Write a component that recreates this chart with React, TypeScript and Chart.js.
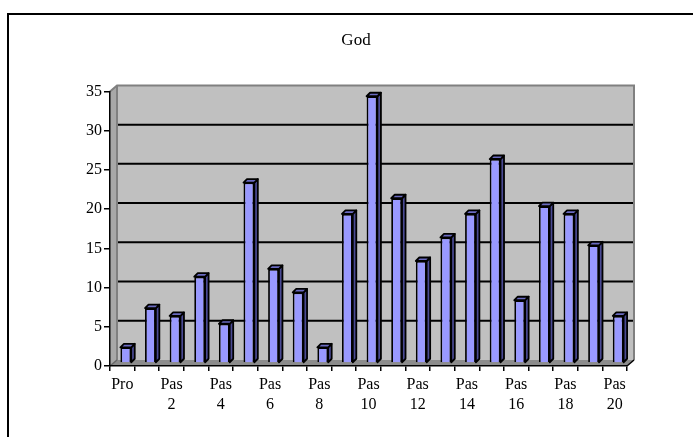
import React, { useEffect, useRef } from "react";
import { Chart, registerables } from "chart.js";

Chart.register(...registerables);

const categories: string[] = [
  "Pro", "Pas 1", "Pas 2", "Pas 3", "Pas 4", "Pas 5", "Pas 6", "Pas 7", "Pas 8", "Pas 9", "Pas 10",
  "Pas 11", "Pas 12", "Pas 13", "Pas 14", "Pas 15", "Pas 16", "Pas 17", "Pas 18", "Pas 19", "Pas 20",
];
const values: number[] = [2, 7, 6, 11, 5, 23, 12, 9, 2, 19, 34, 21, 13, 16, 19, 26, 8, 20, 19, 15, 6];
const yTicks: number[] = [0, 5, 10, 15, 20, 25, 30, 35];
const title = "God";

const FONT = "'Liberation Serif', 'Times New Roman', serif";
const DX = 7;
const DY = -6;
const BDX = 3.5;
const BDY = -3.5;

const threeD = {
  id: "threeD",
  beforeDraw(chart: any) {
    const { ctx, chartArea } = chart;
    const { left, right, top, bottom } = chartArea;
    const y = chart.scales.y;
    ctx.save();
    ctx.fillStyle = "#ffffff";
    ctx.fillRect(0, 0, chart.width, chart.height);
    // frame
    ctx.strokeStyle = "#000";
    ctx.lineWidth = 2;
    ctx.strokeRect(8, 14, 900, 900);
    // left side wall
    ctx.fillStyle = "#a8a8a8";
    ctx.beginPath();
    ctx.moveTo(left, top);
    ctx.lineTo(left + DX, top + DY);
    ctx.lineTo(left + DX, bottom + DY);
    ctx.lineTo(left, bottom);
    ctx.closePath();
    ctx.fill();
    // back wall
    ctx.fillStyle = "#c0c0c0";
    ctx.fillRect(left + DX, top + DY, right - left, bottom - top);
    // floor
    ctx.fillStyle = "#8c8c8c";
    ctx.beginPath();
    ctx.moveTo(left, bottom);
    ctx.lineTo(left + DX, bottom + DY);
    ctx.lineTo(right + DX, bottom + DY);
    ctx.lineTo(right, bottom);
    ctx.closePath();
    ctx.fill();
    // gridlines on back wall
    ctx.strokeStyle = "#000";
    ctx.lineWidth = 2;
    yTicks.forEach((v) => {
      if (v === 0 || v === yTicks[yTicks.length - 1]) return;
      const py = y.getPixelForValue(v) + DY;
      ctx.beginPath();
      ctx.moveTo(left + DX, py);
      ctx.lineTo(right + DX, py);
      ctx.stroke();
    });
    // wall borders
    ctx.strokeStyle = "#808080";
    ctx.lineWidth = 2;
    ctx.beginPath();
    ctx.moveTo(left, top);
    ctx.lineTo(left + DX, top + DY);
    ctx.lineTo(right + DX, top + DY);
    ctx.lineTo(right + DX, bottom + DY);
    ctx.stroke();
    ctx.beginPath();
    ctx.moveTo(left + DX, top + DY);
    ctx.lineTo(left + DX, bottom + DY);
    ctx.stroke();
    // floor edges
    ctx.strokeStyle = "#000";
    ctx.lineWidth = 1.5;
    ctx.beginPath();
    ctx.moveTo(right, bottom);
    ctx.lineTo(right + DX, bottom + DY);
    ctx.stroke();
    ctx.beginPath();
    ctx.moveTo(left, bottom);
    ctx.lineTo(left + DX, bottom + DY);
    ctx.strokeStyle = "#666";
    ctx.stroke();
    ctx.restore();
  },
  beforeDatasetsDraw(chart: any) {
    chart.ctx.save();
    chart.ctx.translate(DX / 2, DY / 2);
  },
  afterDatasetsDraw(chart: any) {
    const ctx = chart.ctx;
    const meta = chart.getDatasetMeta(0);
    ctx.lineWidth = 1.8;
    ctx.strokeStyle = "#000";
    ctx.lineJoin = "round";
    meta.data.forEach((bar: any) => {
      const { x, y, base, width } = bar.getProps(["x", "y", "base", "width"], true);
      const l = x - width / 2;
      const r = x + width / 2;
      // side
      ctx.fillStyle = "#4a4a94";
      ctx.beginPath();
      ctx.moveTo(r, y);
      ctx.lineTo(r + BDX, y + BDY);
      ctx.lineTo(r + BDX, base + BDY);
      ctx.lineTo(r, base);
      ctx.closePath();
      ctx.fill();
      ctx.stroke();
      // top
      ctx.fillStyle = "#6a6ac0";
      ctx.beginPath();
      ctx.moveTo(l, y);
      ctx.lineTo(l + BDX, y + BDY);
      ctx.lineTo(r + BDX, y + BDY);
      ctx.lineTo(r, y);
      ctx.closePath();
      ctx.fill();
      ctx.stroke();
    });
    ctx.restore();
  },
};

export default function App() {
  const ref = useRef<HTMLCanvasElement | null>(null);
  useEffect(() => {
    if (!ref.current) return;
    const chart = new Chart(ref.current, {
      type: "bar",
      data: {
        labels: categories,
        datasets: [
          {
            data: values,
            backgroundColor: "#9999ff",
            borderColor: "#000000",
            borderWidth: 1.8,
            categoryPercentage: 1,
            barPercentage: 0.44,
            clip: false,
          } as any,
        ],
      },
      options: {
        animation: false,
        responsive: false,
        devicePixelRatio: 1,
        layout: { padding: { left: 85, right: 66, top: 0, bottom: 0 } },
        plugins: {
          legend: { display: false },
          tooltip: { enabled: false },
          title: {
            display: true,
            text: title,
            color: "#000",
            font: { family: FONT, size: 17, weight: "normal" as any, lineHeight: 1.2 },
            padding: { top: 30, bottom: 41 },
          },
        },
        scales: {
          x: {
            afterFit: (s: any) => {
              s.height = 71;
            },
            border: { display: true, color: "#000", width: 1.5 },
            grid: {
              offset: true,
              drawOnChartArea: false,
              drawTicks: true,
              tickLength: 5,
              color: "#000",
              lineWidth: 1.5,
            },
            ticks: {
              autoSkip: false,
              maxRotation: 0,
              minRotation: 0,
              padding: 3,
              color: "#000",
              font: { family: FONT, size: 16, lineHeight: 1.3 },
              callback: (_v: any, i: number) => {
                if (i % 2 !== 0) return "";
                const lab = categories[i];
                const parts = lab.split(" ");
                return parts.length > 1 ? parts : lab;
              },
            },
          },
          y: {
            min: 0,
            max: 35,
            afterFit: (s: any) => {
              s.width = 25;
            },
            border: { display: true, color: "#000", width: 1.5 },
            grid: {
              drawOnChartArea: false,
              drawTicks: true,
              tickLength: 6,
              color: "#000",
              lineWidth: 1.5,
            },
            ticks: {
              stepSize: 5,
              padding: 2,
              color: "#000",
              font: { family: FONT, size: 16 },
            },
          },
        },
      },
      plugins: [threeD],
    });
    return () => chart.destroy();
  }, []);
  return (
    <div style={{ position: "fixed", left: 0, top: 0, width: 693, height: 437, background: "#fff" }}>
      <canvas ref={ref} width={693} height={437} style={{ width: 693, height: 437, display: "block" }} />
    </div>
  );
}
